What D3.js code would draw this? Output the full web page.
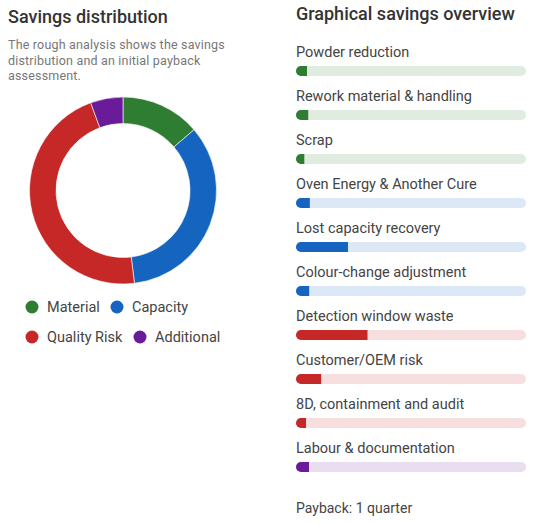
<!DOCTYPE html>
<html>
<head>
<meta charset="utf-8">
<script src="https://cdn.jsdelivr.net/npm/d3@7"></script>
<style>
  html, body { margin: 0; padding: 0; background: #fff; }
  body { font-family: Roboto, "Noto Sans", sans-serif; }
</style>
</head>
<body>
<svg id="chart" width="534" height="524"></svg>
<script>
// groups shown in the donut
const groups = ["Material", "Capacity", "Quality Risk", "Additional"];
const groupColors = ["#2e7d32", "#1565c0", "#c62828", "#6a1b9a"];

// individual savings items (share of total, %)
const items = [
  "Powder reduction", "Rework material & handling", "Scrap",
  "Oven Energy & Another Cure", "Lost capacity recovery", "Colour-change adjustment",
  "Detection window waste", "Customer/OEM risk", "8D, containment and audit",
  "Labour & documentation"
];
const itemValues = [4.8, 5.3, 3.6, 6.0, 22.5, 5.7, 31.0, 10.9, 4.3, 5.6];
const itemGroup = ["Material", "Material", "Material", "Capacity", "Capacity", "Capacity",
  "Quality Risk", "Quality Risk", "Quality Risk", "Additional"];

const subtitleLines = ["The rough analysis shows the savings", "distribution and an initial payback", "assessment."];
const payback = "Payback: 1 quarter";

const svg = d3.select("#chart");
const color = d3.scaleOrdinal().domain(groups).range(groupColors);

// group totals
const groupTotals = groups.map(g => ({
  name: g,
  value: d3.sum(itemValues.filter((v, i) => itemGroup[i] === g))
}));
const total = d3.sum(itemValues);

// left title + subtitle
svg.append("text")
  .attr("x", 8).attr("y", 23)
  .attr("font-size", 18).attr("font-weight", 500).attr("fill", "#333")
  .text("Savings distribution");

svg.append("g").selectAll("text")
  .data(subtitleLines)
  .join("text")
  .attr("x", 8)
  .attr("y", (d, i) => 49 + i * 15.7)
  .attr("font-size", 12.5).attr("letter-spacing", 0.18).attr("fill", "#777")
  .text(d => d);

// donut
const pie = d3.pie().value(d => d.value).sort(null);
const arc = d3.arc().innerRadius(67).outerRadius(93.5);

svg.append("g")
  .attr("transform", "translate(123,190.5)")
  .selectAll("path")
  .data(pie(groupTotals))
  .join("path")
  .attr("d", arc)
  .attr("fill", d => color(d.data.name))
  .attr("stroke", "#fff")
  .attr("stroke-width", 0.6);

// legend (wraps like inline items)
const legendPos = [[32, 307], [117, 307], [32, 337], [140, 337]];
const legend = svg.append("g").selectAll("g")
  .data(groups)
  .join("g")
  .attr("transform", (d, i) => `translate(${legendPos[i][0]},${legendPos[i][1]})`);
legend.append("circle").attr("r", 6.5).attr("fill", d => color(d));
legend.append("text")
  .attr("x", 15).attr("dy", "0.35em")
  .attr("font-size", 14.5).attr("fill", "#444")
  .text(d => d);

// right panel
svg.append("text")
  .attr("x", 296).attr("y", 20)
  .attr("font-size", 18).attr("font-weight", 500).attr("fill", "#333")
  .text("Graphical savings overview");

const x = d3.scaleLinear().domain([0, total]).range([0, 230]);
const y = d3.scaleBand().domain(items).range([66, 66 + 44 * items.length]).paddingInner(0);

const rows = svg.append("g").selectAll("g")
  .data(items)
  .join("g")
  .attr("transform", d => `translate(296,${y(d)})`);

rows.append("text")
  .attr("y", -9)
  .attr("font-size", 14.5).attr("fill", "#444")
  .text(d => d);

rows.append("rect")
  .attr("width", x(total)).attr("height", 10).attr("rx", 5)
  .attr("fill", (d, i) => color(itemGroup[i])).attr("fill-opacity", 0.15);

// clip the fill so only the left end is rounded
const defs = svg.append("defs");
items.forEach((d, i) => {
  defs.append("clipPath").attr("id", "c" + i)
    .append("rect").attr("width", x(itemValues[i])).attr("height", 10);
});
rows.append("rect")
  .attr("clip-path", (d, i) => `url(#c${i})`)
  .attr("width", (d, i) => x(itemValues[i]) + 6).attr("height", 10).attr("rx", 5)
  .attr("fill", (d, i) => color(itemGroup[i]));

svg.append("text")
  .attr("x", 296).attr("y", 513)
  .attr("font-size", 14).attr("fill", "#444")
  .text(payback);
</script>
</body>
</html>
